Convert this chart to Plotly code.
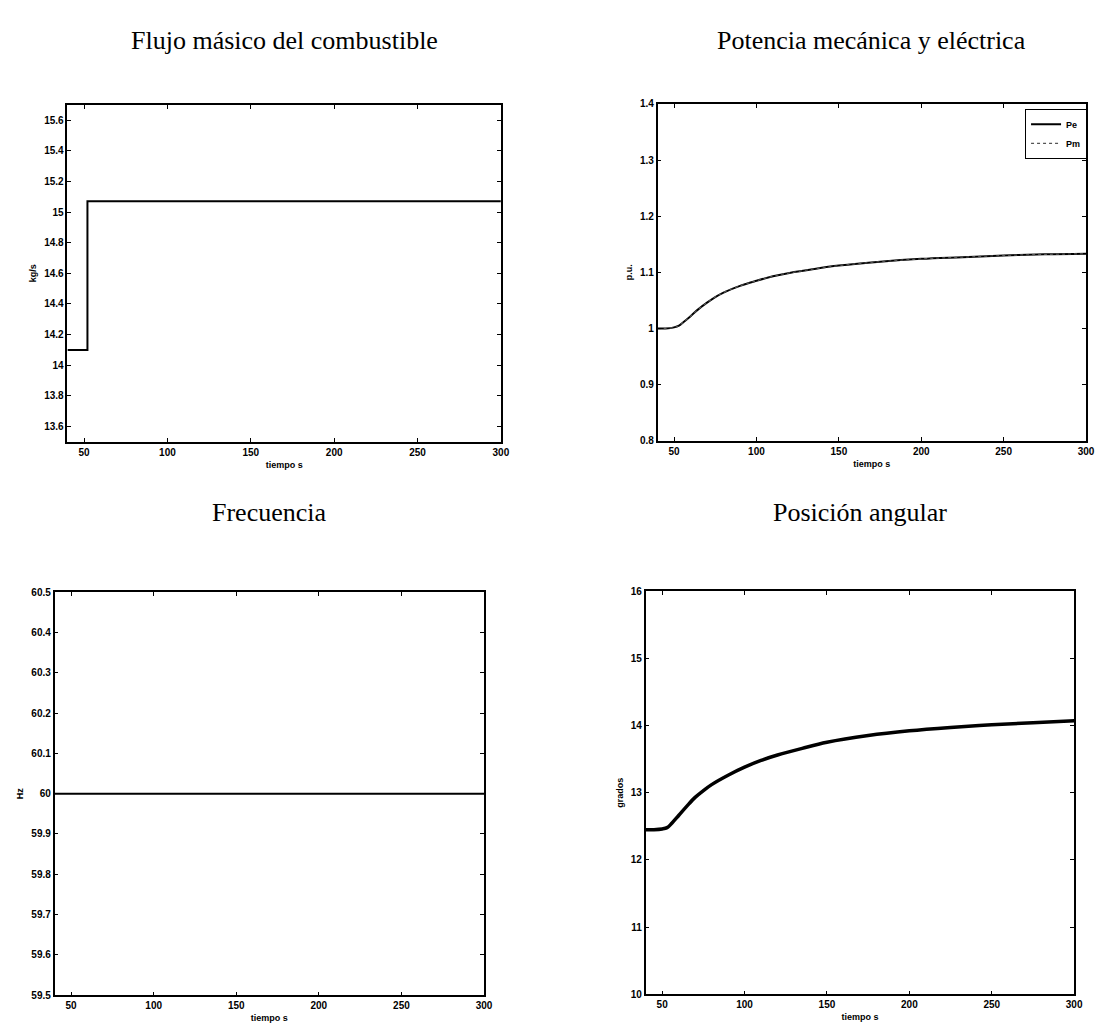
import plotly.graph_objects as go

# ---- data ----
t_fuel = [40, 52, 52, 300]
fuel = [14.1, 14.1, 15.07, 15.07]

t_pow = [40, 45, 50, 53, 56, 60, 65, 70, 75, 80, 90, 100, 110, 120, 135, 150, 175, 200, 225, 250, 275, 300]
pe = [1.0, 1.0, 1.002, 1.005, 1.012, 1.022, 1.035, 1.046, 1.056, 1.064, 1.076, 1.085, 1.093, 1.099, 1.106, 1.112, 1.119, 1.124, 1.127, 1.13, 1.132, 1.133]
pm = [1.0, 1.0, 1.002, 1.005, 1.012, 1.022, 1.035, 1.046, 1.056, 1.064, 1.076, 1.085, 1.093, 1.099, 1.106, 1.112, 1.119, 1.124, 1.127, 1.13, 1.132, 1.133]

t_freq = [40, 300]
freq = [60.0, 60.0]

t_ang = [40, 45, 50, 53, 56, 60, 65, 70, 75, 80, 90, 100, 110, 120, 135, 150, 175, 200, 225, 250, 275, 300]
ang = [12.45, 12.45, 12.46, 12.48, 12.55, 12.66, 12.8, 12.93, 13.03, 13.12, 13.26, 13.38, 13.48, 13.56, 13.66, 13.75, 13.85, 13.92, 13.97, 14.01, 14.04, 14.07]

x_ticks = [50, 100, 150, 200, 250, 300]
titles = ["Flujo másico del combustible", "Potencia mecánica y eléctrica", "Frecuencia", "Posición angular"]
ylabels = ["kg/s", "p.u.", "Hz", "grados"]

W, H = 1102, 1025
fig = go.Figure()

fig.add_trace(go.Scatter(x=t_fuel, y=fuel, mode="lines", line=dict(color="black", width=2), showlegend=False, xaxis="x", yaxis="y"))
fig.add_trace(go.Scatter(x=t_pow, y=pe, mode="lines", name="Pe", line=dict(color="black", width=2, shape="spline"), xaxis="x2", yaxis="y2"))
fig.add_trace(go.Scatter(x=t_pow, y=pm, mode="lines", name="Pm", line=dict(color="#555", width=1.2, dash="dot", shape="spline"), xaxis="x2", yaxis="y2"))
fig.add_trace(go.Scatter(x=t_freq, y=freq, mode="lines", line=dict(color="black", width=2), showlegend=False, xaxis="x3", yaxis="y3"))
fig.add_trace(go.Scatter(x=t_ang, y=ang, mode="lines", line=dict(color="black", width=3.5, shape="spline"), showlegend=False, xaxis="x4", yaxis="y4"))

tickfont = dict(family="Liberation Sans, Arial", size=10, color="black", weight="bold")
labfont = dict(family="Liberation Sans, Arial", size=9, color="black", weight="bold")

def px_dom_x(a, b):
    return [a / W, b / W]

def px_dom_y(top, bot):
    return [1 - bot / H, 1 - top / H]

doms = [
    (px_dom_x(68, 505), px_dom_y(100, 441), [13.5, 15.7], 0.2),
    (px_dom_x(663, 1095), px_dom_y(99, 440), [0.8, 1.4], 0.1),
    (px_dom_x(55, 488), px_dom_y(593, 1001), [59.5, 60.5], 0.1),
    (px_dom_x(651, 1083), px_dom_y(592, 1000), [10, 16], 1),
]

layout = dict(width=W, height=H, margin=dict(l=0, r=0, t=0, b=0),
              paper_bgcolor="white", plot_bgcolor="white",
              showlegend=True,
              legend=dict(x=1096 / W, y=1 - 104 / H, xanchor="right", yanchor="top",
                          bgcolor="white", bordercolor="black", borderwidth=1,
                          font=dict(family="Liberation Sans, Arial", size=9, color="black", weight="bold"),
                          tracegroupgap=0, itemwidth=30))
annotations = []
for i, (dx, dy, yr, dt) in enumerate(doms):
    k = "" if i == 0 else str(i + 1)
    layout["xaxis" + k] = dict(domain=dx, range=[40, 300], tickvals=x_ticks, anchor="y" + k,
                                showline=True, linecolor="black", linewidth=1.5, mirror="ticks",
                                ticks="inside", ticklen=4, tickcolor="black", showgrid=False, zeroline=False,
                                tickfont=tickfont,
                                title=dict(text="tiempo s", font=labfont, standoff=5))
    layout["yaxis" + k] = dict(domain=dy, range=yr, dtick=dt, anchor="x" + k,
                                showline=True, linecolor="black", linewidth=1.5, mirror="ticks",
                                ticks="inside", ticklen=4, tickcolor="black", showgrid=False, zeroline=False,
                                tickfont=tickfont,
                                title=dict(text=ylabels[i], font=labfont, standoff=6))
    cx = (dx[0] + dx[1]) / 2
    ty = 1 - (35 / H) if i < 2 else 1 - (513 / H)
    annotations.append(dict(text=titles[i], x=cx, y=ty, xref="paper", yref="paper", showarrow=False,
                            font=dict(family="Liberation Serif, Times New Roman", size=26, color="black"),
                            xanchor="center", yanchor="middle"))
layout["annotations"] = annotations
fig.update_layout(**layout)
fig.write_html("out.html")
